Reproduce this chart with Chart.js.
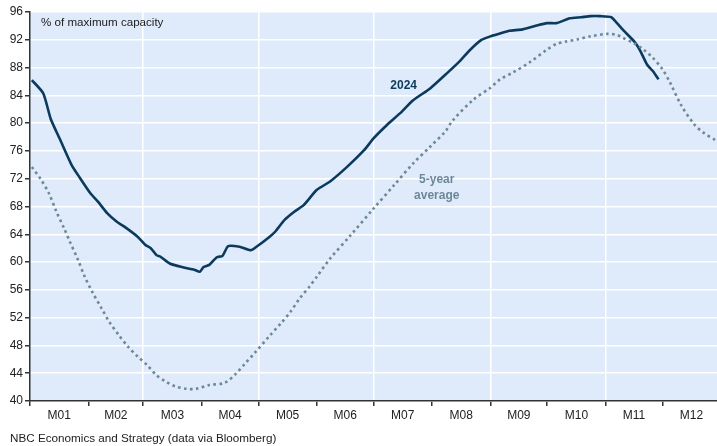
<!DOCTYPE html>
<html>
<head>
<meta charset="utf-8">
<script src="https://cdn.jsdelivr.net/npm/chart.js@4/dist/chart.umd.min.js"></script>
<style>
  html, body { margin: 0; padding: 0; background: #ffffff; }
  #wrap { width: 717px; height: 446px; position: relative; }
</style>
</head>
<body>
<div id="wrap"><canvas id="storage-chart"></canvas></div>
<script>
// day of year (0 = Jan 1) and % of maximum capacity
const days2024 = [1, 7, 11, 16, 22, 26, 32, 36, 41, 46, 50, 57, 61, 64, 67, 69, 74, 81, 87, 90,
  92, 95, 99, 102, 105, 111, 117, 120, 127, 130, 135, 140, 145, 152, 159, 168, 177, 182, 189, 196,
  203, 212, 221, 228, 233, 239, 244, 249, 254, 261, 269, 274, 279, 286, 292, 297, 302, 308, 311, 315,
  320, 323, 327, 330, 333];
const values2024 = [86.2, 84.3, 80.6, 77.6, 74.0, 72.3, 69.9, 68.7, 67.0, 65.8, 65.1, 63.65, 62.5, 62.0, 61.0, 60.8, 59.8, 59.25, 58.9, 58.6,
  59.3, 59.6, 60.7, 60.9, 62.3, 62.2, 61.7, 62.2, 63.65, 64.4, 66.1, 67.25, 68.2, 70.4, 71.6, 73.7, 76.1, 77.8, 79.7, 81.4,
  83.3, 85.0, 87.2, 89.0, 90.5, 91.95, 92.5, 92.9, 93.3, 93.5, 94.1, 94.4, 94.4, 95.1, 95.25, 95.4, 95.4, 95.25, 94.4, 93.2,
  91.8, 90.6, 88.4, 87.5, 86.3];

const daysAvg = [1, 6, 10, 14, 18, 21, 25, 29, 33, 38, 42, 47, 52, 57, 62, 67, 72, 77, 83, 88,
  95, 103, 109, 114, 119, 127, 133, 138, 143, 148, 152, 159, 170, 182, 193, 203, 212, 220, 224, 235,
  244, 249, 256, 265, 274, 279, 284, 290, 297, 306, 311, 314, 320, 325, 330, 335, 339, 345, 352, 357, 363];
const valuesAvg = [73.7, 71.8, 69.9, 67.25, 64.9, 63.0, 60.6, 57.9, 55.7, 53.3, 51.4, 49.5, 47.8, 46.4, 45.2, 43.7, 42.8, 42.1, 41.75, 41.75,
  42.3, 42.6, 43.9, 45.4, 46.9, 49.4, 51.2, 52.85, 54.8, 56.45, 57.9, 60.5, 63.9, 67.7, 71.1, 74.2, 76.6, 78.8, 80.4, 83.4,
  85.1, 86.3, 87.3, 88.8, 90.6, 91.4, 91.75, 92.05, 92.5, 92.85, 92.7, 92.3, 91.5, 90.6, 89.4, 87.8, 85.9, 82.6, 79.8, 78.6, 77.6];

const monthStarts = [0, 31, 60, 91, 121, 152, 182, 213, 244, 274, 305, 335, 366];
const monthLabels = ["M01", "M02", "M03", "M04", "M05", "M06", "M07", "M08", "M09", "M10", "M11", "M12"];
const gridMonths = [60, 121, 182, 244, 305];

const yMin = 40;
const yMax = 96;
const yStep = 4;

const FONT = "'Liberation Sans', Arial, sans-serif";
const NAVY = "#0b3a5c";
const GREY = "#6c8898";

const toPoints = (xs, ys) => xs.map((x, i) => ({ x, y: ys[i] }));

const decorPlugin = {
  id: "storageDecor",
  beforeDraw(chart) {
    const { ctx, chartArea } = chart;
    ctx.save();
    ctx.fillStyle = "#dfeafb";
    ctx.fillRect(chartArea.left, chartArea.top, chartArea.right - chartArea.left, chartArea.bottom - chartArea.top);
    ctx.restore();
  },
  afterDraw(chart) {
    const { ctx, chartArea } = chart;
    const xs = chart.scales.x;
    const ys = chart.scales.y;
    ctx.save();

    // month names centred between the boundary ticks
    ctx.fillStyle = "#222222";
    ctx.font = `12px ${FONT}`;
    ctx.textAlign = "center";
    ctx.textBaseline = "middle";
    monthLabels.forEach((label, i) => {
      const mid = (monthStarts[i] + monthStarts[i + 1]) / 2;
      ctx.fillText(label, xs.getPixelForValue(mid), chartArea.bottom + 15);
    });

    // unit caption
    ctx.textAlign = "left";
    ctx.font = `11.6px ${FONT}`;
    ctx.fillText("% of maximum capacity", chartArea.left + 11, chartArea.top + 11);

    // series labels
    ctx.font = `bold 12px ${FONT}`;
    ctx.textAlign = "center";
    ctx.fillStyle = NAVY;
    ctx.fillText("2024", xs.getPixelForValue(198), ys.getPixelForValue(85.35));
    ctx.fillStyle = GREY;
    ctx.fillText("5-year", xs.getPixelForValue(215.5), ys.getPixelForValue(71.8));
    ctx.fillText("average", xs.getPixelForValue(215.5), ys.getPixelForValue(69.6));

    // source line
    ctx.fillStyle = "#222222";
    ctx.font = `11.7px ${FONT}`;
    ctx.textAlign = "left";
    ctx.fillText("NBC Economics and Strategy (data via Bloomberg)", 10, 439);
    ctx.restore();
  },
};

new Chart(document.getElementById("storage-chart"), {
  type: "line",
  data: {
    datasets: [
      {
        label: "5-year average",
        data: toPoints(daysAvg, valuesAvg),
        borderColor: GREY,
        borderWidth: 2.6,
        borderDash: [2.6, 3.4],
        pointRadius: 0,
        tension: 0.3,
        fill: false,
      },
      {
        label: "2024",
        data: toPoints(days2024, values2024),
        borderColor: NAVY,
        borderWidth: 2.6,
        pointRadius: 0,
        tension: 0.2,
        fill: false,
      },
    ],
  },
  options: {
    responsive: true,
    maintainAspectRatio: false,
    animation: false,
    layout: { padding: { top: 12, right: 0, bottom: 0, left: 0 } },
    plugins: {
      legend: { display: false },
      tooltip: { enabled: false },
    },
    scales: {
      x: {
        type: "linear",
        min: 0,
        max: 364,
        afterBuildTicks(scale) {
          scale.ticks = monthStarts.filter((d) => d <= 364).map((d) => ({ value: d }));
        },
        afterFit(scale) {
          scale.height = 45;
        },
        ticks: {
          display: true,
          callback: () => "",
          autoSkip: false,
          maxRotation: 0,
        },
        grid: {
          color: (ctx) => (ctx.tick && gridMonths.includes(ctx.tick.value) ? "#ffffff" : "rgba(0,0,0,0)"),
          lineWidth: 1.5,
          tickColor: "#333333",
          tickLength: 5,
          drawTicks: true,
        },
        border: { display: true, color: "#333333", width: 1.5 },
      },
      y: {
        min: yMin,
        max: yMax,
        afterFit(scale) {
          scale.width = 30;
        },
        ticks: {
          stepSize: yStep,
          color: "#222222",
          font: { family: FONT, size: 12 },
          padding: 2,
        },
        grid: {
          color: "#ffffff",
          lineWidth: 1.5,
          tickColor: "#333333",
          tickLength: 5,
        },
        border: { display: true, color: "#333333", width: 1.5 },
      },
    },
  },
  plugins: [decorPlugin],
});
</script>
</body>
</html>
